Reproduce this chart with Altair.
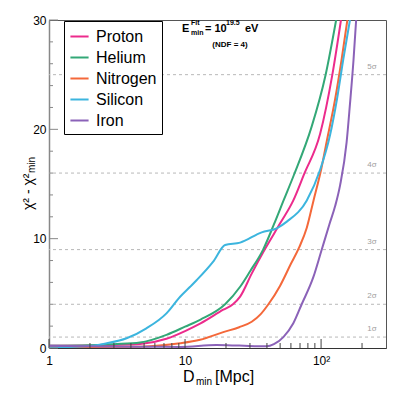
import altair as alt
import pandas as pd

FONT = "Liberation Sans"

series = ["Proton", "Helium", "Nitrogen", "Silicon", "Iron"]
colors = ["#ec2b8c", "#33a877", "#f4683a", "#3cb5de", "#8b62b8"]

proton_x = [1, 2, 3, 4.67, 7.3, 10, 13, 19.1, 22.5, 25.4, 30.9, 38.5, 50, 62.5, 75, 98.4, 121, 140]
proton_y = [0.2, 0.22, 0.28, 0.37, 0.85, 1.55, 2.25, 3.5, 4.0, 4.7, 6.8, 9.0, 11.4, 13.5, 15.9, 19.6, 25.0, 30]

helium_x = [1, 2, 3, 4.67, 7.3, 10, 13, 19.7, 25.4, 30, 37.5, 45, 53, 63, 85, 108, 129]
helium_y = [0.2, 0.25, 0.35, 0.5, 1.2, 1.95, 2.6, 4.0, 5.6, 7.0, 9.0, 11.3, 13.5, 15.8, 20.2, 25.0, 30]

nitrogen_x = [1, 2, 4.67, 9.2, 12.9, 19.1, 25, 30.9, 36, 41, 50, 60, 69, 78.5, 88, 100, 110, 127, 142, 156]
nitrogen_y = [0.1, 0.08, 0.12, 0.43, 0.75, 1.45, 1.9, 2.4, 3.1, 4.0, 5.7, 7.7, 9.2, 11.0, 13.5, 16.3, 18.9, 22.8, 26.5, 30]

silicon_x = [1, 2, 2.66, 3.72, 5.2, 7.3, 9.2, 10.9, 12.2, 16.1, 19.7, 25.4, 36.6, 47.2, 56, 78.5, 98.4, 116.5, 131, 146, 163]
silicon_y = [0.05, 0.18, 0.43, 0.89, 1.8, 3.17, 4.69, 5.6, 6.22, 7.9, 9.42, 9.64, 10.58, 10.95, 11.56, 13.5, 16.3, 19.5, 22.8, 26.5, 30]

iron_x = [1, 2, 4.1, 9.2, 17, 25, 39.9, 45, 52.8, 62.5, 72, 87.8, 100, 115, 127, 138, 154, 163, 173, 181]
iron_y = [0.2, 0.15, 0.12, 0.1, 0.27, 0.22, 0.15, 0.35, 1.0, 2.26, 4.0, 6.5, 8.8, 11.3, 13.0, 14.9, 18.8, 22.3, 26.3, 30]

sig_vals = [1, 4, 9, 16, 25]
sig_labels = ["1σ", "2σ", "3σ", "4σ", "5σ"]

x_major = [1, 10, 100]
x_minor = [2, 3, 4, 5, 6, 7, 8, 9, 20, 30, 40, 50, 60, 70, 80, 90, 200]
y_major = [0, 10, 20, 30]
y_minor = [2, 4, 6, 8, 12, 14, 16, 18, 22, 24, 26, 28]

rows = []
for name, xs, ys in zip(series,
                        [proton_x, helium_x, nitrogen_x, silicon_x, iron_x],
                        [proton_y, helium_y, nitrogen_y, silicon_y, iron_y]):
    for xv, yv in zip(xs, ys):
        rows.append({"series": name, "D": xv, "chi": yv})
df = pd.DataFrame(rows)
sig = pd.DataFrame({"chi": sig_vals, "lab": sig_labels})

xscale = alt.Scale(type="log", domain=[1, 300])
yscale = alt.Scale(domain=[0, 30])
W, H = 337, 328

lines = alt.Chart(df).mark_line(clip=True, interpolate="monotone", strokeWidth=2).encode(
    x=alt.X("D:Q", scale=xscale, title=None,
            axis=alt.Axis(orient="bottom", values=x_major, tickSize=0, labelFontSize=12, labelFont=FONT,
                          labelColor="black", labelPadding=7, labelFlush=False, labelOverlap=False,
                          labelExpr="datum.value == 100 ? '10²' : format(datum.value, 'd')",
                          domainColor="#333", grid=False)),
    y=alt.Y("chi:Q", scale=yscale, title=None,
            axis=alt.Axis(orient="left", values=y_major, tickSize=0, labelFontSize=12, labelFont=FONT,
                          labelColor="black", labelPadding=3, format="d", labelFlush=False,
                          domainColor="#888", domainWidth=1.5, grid=False)),
    color=alt.Color("series:N", scale=alt.Scale(domain=series, range=colors),
                    legend=alt.Legend(orient="none", legendX=15, legendY=1, title=None,
                                      labelFontSize=16, labelFont=FONT, labelColor="black",
                                      symbolType="stroke", symbolStrokeWidth=2, symbolSize=330,
                                      rowPadding=2, padding=5, labelOffset=6,
                                      strokeColor="black", fillColor="white")),
)

def xticks(vals, size):
    return alt.Chart(pd.DataFrame({"D": vals})).mark_rule(color="#444", strokeWidth=1).encode(
        x=alt.X("D:Q", scale=xscale, axis=None), y=alt.value(H), y2=alt.value(H - size))

def yticks(vals, size):
    return alt.Chart(pd.DataFrame({"chi": vals})).mark_rule(color="#888", strokeWidth=1).encode(
        y=alt.Y("chi:Q", scale=yscale, axis=None), x=alt.value(0), x2=alt.value(size))

rules = alt.Chart(sig).mark_rule(color="#b8b8b8", strokeDash=[3, 3], strokeWidth=1).encode(
    y=alt.Y("chi:Q", scale=yscale, axis=None)
)
sig_text = alt.Chart(sig).mark_text(align="center", baseline="alphabetic", dy=-6, fontSize=8,
                                    font=FONT, color="#a0a0a0").encode(
    x=alt.value(323), y=alt.Y("chi:Q", scale=yscale, axis=None), text="lab:N"
)

def txt(s, x, y, size, bold=False, angle=0, align="left", color="black"):
    props = dict(align=align, baseline="alphabetic", fontSize=size, font=FONT, color=color,
                 fontWeight="bold" if bold else "normal")
    if angle:
        props["angle"] = angle
    return alt.Chart(pd.DataFrame({"t": [s]})).mark_text(**props).encode(
        x=alt.value(x), y=alt.value(y), text="t:N")

texts = [
    txt("E", 133, 12, 11, True),
    txt("Fit", 142, 5, 7, True),
    txt("min", 142, 15, 7, True),
    txt("= 10", 156, 12, 11, True),
    txt("19.5", 177, 5, 7, True),
    txt("eV", 196, 12, 11, True),
    txt("(NDF = 4)", 181, 27, 8, True, align="center"),
    txt("D", 134, 362, 16),
    txt("min", 147, 365, 10),
    txt("[Mpc]", 166, 362, 16),
    txt("χ² - χ²", -16, 190, 14, angle=270),
    txt("min", -14, 153, 10, angle=270),
]

chart = alt.layer(
    rules, sig_text, lines,
    xticks(x_major, 9), xticks(x_minor, 5), yticks(y_major, 9), yticks(y_minor, 4),
    *texts
).resolve_axis(
    x="independent", y="independent"
).properties(
    width=W, height=H,
    autosize=alt.AutoSizeParams(type="none"),
    padding={"left": 41, "top": 12, "right": 10, "bottom": 40},
).configure_view(stroke="#555", strokeWidth=1)

chart.save("out.html", embed_options={"renderer": "svg", "actions": False})
